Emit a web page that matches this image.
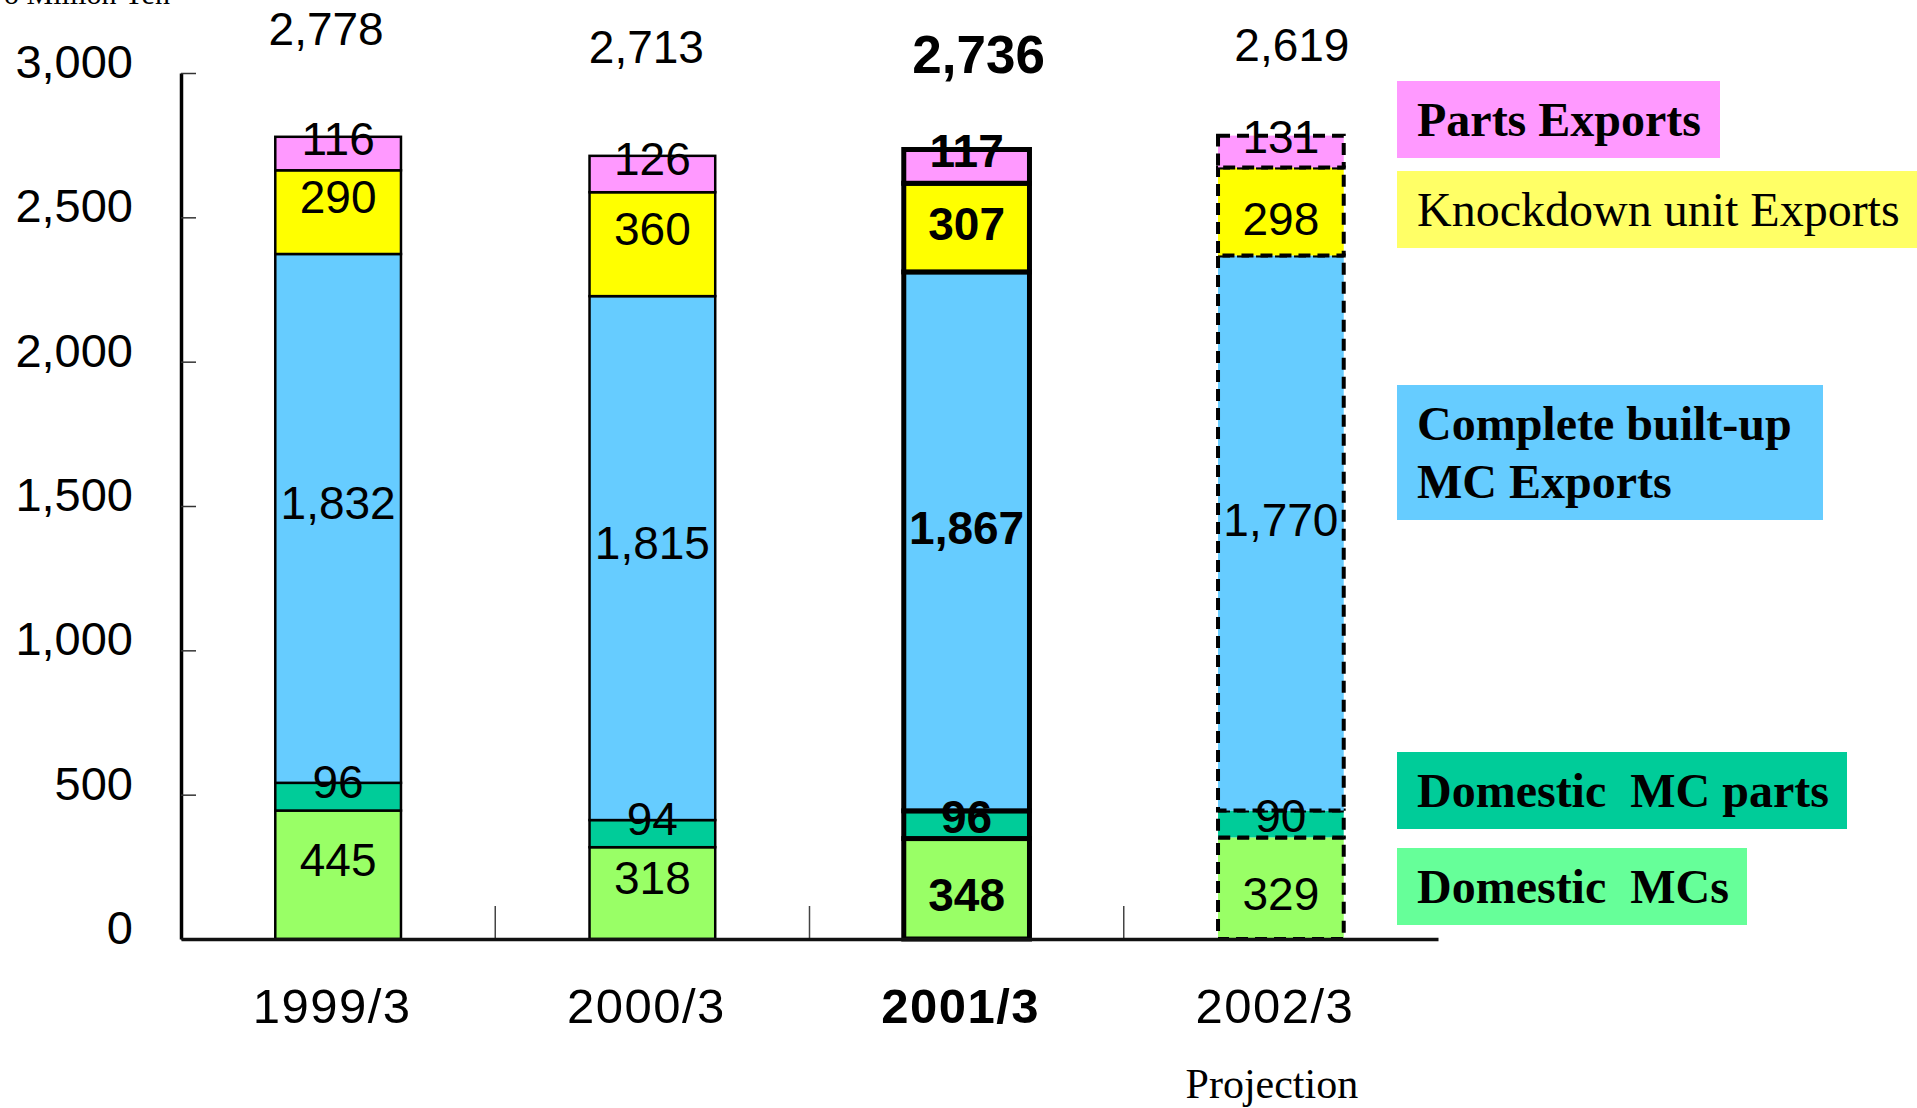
<!DOCTYPE html>
<html>
<head>
<meta charset="utf-8">
<script src="https://cdn.jsdelivr.net/npm/d3@7"></script>
<style>
  body { margin: 0; background: #fff; }
  svg { display: block; }
  text { white-space: pre; }
</style>
</head>
<body>
<div id="chart"></div>
<script>
var years = ['1999/3', '2000/3', '2001/3', '2002/3']
var domesticMCs = [445, 318, 348, 329]
var domesticParts = [96, 94, 96, 90]
var builtUpExports = [1832, 1815, 1867, 1770]
var knockdownExports = [290, 360, 307, 298]
var partsExports = [116, 126, 117, 131]
var totals = [2778, 2713, 2736, 2619]
// the projection column is drawn taller than its printed figures in the source,
// these are the segment heights as they appear on the picture
var projectionDrawn = [352, 93, 1923, 305, 110]
var yTicks = [0, 500, 1000, 1500, 2000, 2500, 3000]

var keys = ['domMC', 'domParts', 'builtUp', 'knockdown', 'parts']
var barColors = ['#99ff66', '#00cc99', '#66ccff', '#ffff00', '#ff99ff']

var width = 1917
var height = 1108
var margin = { top: 73, left: 181, right: 479, bottom: 169 }
var innerW = width - margin.left - margin.right
var innerH = height - margin.top - margin.bottom

var sans = '"Liberation Sans", Arial, sans-serif'
var serif = '"Liberation Serif", "Times New Roman", serif'

var svg = d3
  .select('#chart')
  .append('svg')
  .attr('width', width)
  .attr('height', height)

var g = svg
  .append('g')
  .attr('transform', 'translate(' + margin.left + ',' + margin.top + ')')

var xScale = d3
  .scaleBand()
  .domain(years)
  .range([0, innerW])
  .paddingInner(0.6)
  .paddingOuter(0.3)

var yScale = d3
  .scaleLinear()
  .domain([0, 3000])
  .range([innerH, 0])

var printed = [domesticMCs, domesticParts, builtUpExports, knockdownExports, partsExports]

var rows = years.map(function(year, i) {
  var row = { year: year, printed: printed.map(s => s[i]) }
  keys.forEach(function(k, j) {
    row[k] = i === 3 ? projectionDrawn[j] : printed[j][i]
  })
  return row
})

var stacked = d3.stack().keys(keys)(rows)

var segments = []
stacked.forEach(function(layer, j) {
  layer.forEach(function(d, i) {
    segments.push({ layer: j, col: i, y0: d[0], y1: d[1], label: d.data.printed[j] })
  })
})

function strokeWidth(col) {
  if (col === 2) return 5
  if (col === 3) return 4
  return 2.5
}

// axes first so bars sit on top
var yAxis = d3
  .axisLeft(yScale)
  .tickValues(yTicks)
  .tickFormat(d3.format(','))
  .tickSizeInner(-15)
  .tickSizeOuter(0)
  .tickPadding(48)

var yAxisG = g.append('g').attr('class', 'y-axis').call(yAxis)
yAxisG.select('.domain').attr('stroke', '#000').attr('stroke-width', 3.5)
yAxisG.selectAll('.tick line').attr('stroke', '#333').attr('stroke-width', 1.5)
yAxisG
  .selectAll('.tick text')
  .attr('y', -12)
  .attr('dy', null)
  .attr('dominant-baseline', 'central')
  .attr('font-family', sans)
  .attr('font-size', 47)
  .attr('fill', '#000')

// tick marks between the columns
var step = xScale.step()
g.selectAll('.sep')
  .data(years.slice(1))
  .enter()
  .append('line')
  .attr('class', 'sep')
  .attr('x1', d => xScale(d) - (step * xScale.paddingInner()) / 2)
  .attr('x2', d => xScale(d) - (step * xScale.paddingInner()) / 2)
  .attr('y1', innerH)
  .attr('y2', innerH - 33)
  .attr('stroke', '#444')
  .attr('stroke-width', 1.5)

g.selectAll('.seg')
  .data(segments)
  .enter()
  .append('rect')
  .attr('class', 'seg')
  .attr('x', d => xScale(years[d.col]))
  .attr('width', xScale.bandwidth())
  .attr('y', d => yScale(d.y1))
  .attr('height', d => yScale(d.y0) - yScale(d.y1))
  .attr('fill', d => barColors[d.layer])
  .attr('stroke', '#000')
  .attr('stroke-width', d => strokeWidth(d.col))
  .attr('stroke-dasharray', d => (d.col === 3 ? '12,7' : null))

var xAxis = d3
  .axisBottom(xScale)
  .tickSize(0)
  .tickSizeOuter(0)

var xAxisG = g
  .append('g')
  .attr('class', 'x-axis')
  .attr('transform', 'translate(0,' + innerH + ')')
  .call(xAxis)

xAxisG.select('.domain').attr('stroke', '#111').attr('stroke-width', 3.5)
xAxisG
  .selectAll('.tick text')
  .attr('x', -6)
  .attr('y', 67)
  .attr('dy', '0.35em')
  .attr('font-family', sans)
  .attr('font-size', 49)
  .attr('letter-spacing', 1.5)
  .attr('font-weight', d => (d === '2001/3' ? 700 : 400))
  .attr('fill', '#000')

// labels sit around the middle of each segment, nudged as in the source
function labelShift(d) {
  if (d.col < 2 || d.layer === 4) return -15
  if (d.layer === 2) return -13
  if (d.layer === 0) return 6
  if (d.layer === 1) return -8
  return d.col === 3 ? 8 : -4
}

g.selectAll('.seg-label')
  .data(segments)
  .enter()
  .append('text')
  .attr('class', 'seg-label')
  .attr('x', d => xScale(years[d.col]) + xScale.bandwidth() / 2)
  .attr('y', d => (yScale(d.y0) + yScale(d.y1)) / 2 + labelShift(d))
  .attr('dominant-baseline', 'central')
  .attr('text-anchor', 'middle')
  .attr('font-family', sans)
  .attr('font-size', 46)
  .attr('font-weight', d => (d.col === 2 ? 700 : 400))
  .text(d => d3.format(',')(d.label))

var totalDx = [-12, -6, 12, 11]
var totalY = [-28, -10, 0, -12]

g.selectAll('.total')
  .data(totals)
  .enter()
  .append('text')
  .attr('class', 'total')
  .attr('x', (d, i) => xScale(years[i]) + xScale.bandwidth() / 2 + totalDx[i])
  .attr('y', (d, i) => totalY[i])
  .attr('text-anchor', 'middle')
  .attr('font-family', sans)
  .attr('font-size', (d, i) => (i === 2 ? 53 : 46))
  .attr('font-weight', (d, i) => (i === 2 ? 700 : 400))
  .text(d => d3.format(',')(d))

svg
  .append('text')
  .attr('x', xScale('2002/3') + margin.left + xScale.bandwidth() / 2 - 9)
  .attr('y', 1098)
  .attr('text-anchor', 'middle')
  .attr('font-family', serif)
  .attr('font-size', 42)
  .text('Projection')

// unit label, cut off by the top edge in the source
svg
  .append('text')
  .attr('x', 4)
  .attr('y', 4)
  .attr('font-family', serif)
  .attr('font-size', 30)
  .text('o Million Yen')

// legend boxes
var legend = [
  { lines: ['Parts Exports'], color: '#ff99ff', bold: true, y: 81, w: 323, h: 77 },
  { lines: ['Knockdown unit Exports'], color: '#ffff66', bold: false, y: 171, w: 520, h: 77 },
  { lines: ['Complete built-up', 'MC Exports'], color: '#66ccff', bold: true, y: 385, w: 426, h: 135 },
  { lines: ['Domestic  MC parts'], color: '#00cc99', bold: true, y: 752, w: 450, h: 77 },
  { lines: ['Domestic  MCs'], color: '#66ff99', bold: true, y: 848, w: 350, h: 77 }
]

var legendG = svg
  .selectAll('.legend')
  .data(legend)
  .enter()
  .append('g')
  .attr('class', 'legend')
  .attr('transform', d => 'translate(1397,' + d.y + ')')

legendG
  .append('rect')
  .attr('width', d => d.w)
  .attr('height', d => d.h)
  .attr('fill', d => d.color)

legendG
  .selectAll('text')
  .data(d => d.lines.map(line => ({ line: line, bold: d.bold, n: d.lines.length })))
  .enter()
  .append('text')
  .attr('x', 20)
  .attr('y', (d, i) => (d.n === 1 ? 55 : 55 + i * 58))
  .attr('font-family', serif)
  .attr('font-size', 48)
  .attr('font-weight', d => (d.bold ? 700 : 400))
  .text(d => d.line)
</script>
</body>
</html>
